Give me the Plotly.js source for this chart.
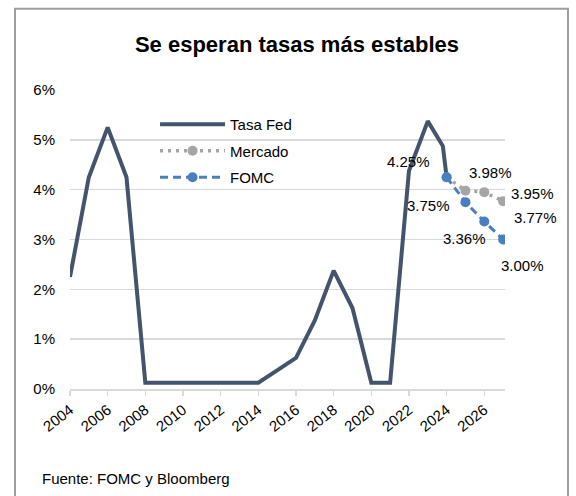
<!DOCTYPE html>
<html>
<head>
<meta charset="utf-8">
<script src="https://cdn.plot.ly/plotly-3.0.1.min.js"></script>
<style>
  html, body { margin: 0; padding: 0; background: #ffffff; }
  #chart { width: 576px; height: 496px; }
</style>
</head>
<body>
<div id="chart"></div>
<script>
// ---- Data ----
const fedYears = [2004, 2005, 2006, 2007, 2008, 2009, 2010, 2011, 2012, 2013, 2014, 2015, 2016, 2017, 2018, 2019, 2020, 2021, 2022, 2023, 2023.8, 2024];
const fedValues = [2.25, 4.25, 5.25, 4.25, 0.125, 0.125, 0.125, 0.125, 0.125, 0.125, 0.125, 0.375, 0.625, 1.375, 2.375, 1.625, 0.125, 0.125, 4.375, 5.375, 4.875, 4.25];

const mercadoYears = [2024, 2025, 2026, 2027];
const mercadoValues = [4.25, 3.98, 3.95, 3.77];

const fomcYears = [2024, 2025, 2026, 2027];
const fomcValues = [4.25, 3.75, 3.36, 3.00];

const yTickVals = [0, 1, 2, 3, 4, 5, 6];
const yTickText = ['0%', '1%', '2%', '3%', '4%', '5%', '6%'];
const xTickVals = [2004, 2006, 2008, 2010, 2012, 2014, 2016, 2018, 2020, 2022, 2024, 2026];
const xTickText = ['2004', '2006', '2008', '2010', '2012', '2014', '2016', '2018', '2020', '2022', '2024', '2026'];

const titleText = 'Se esperan tasas más estables';
const sourceText = 'Fuente: FOMC y Bloomberg';

// label offsets (style only)
const fomcLabelShift = [[-38, 16], [-37, -3], [-20, -17], [19, -26]];
const mercadoLabelShift = [null, [25, 18], [48, -1], [32, -16]];

const FONT = 'Liberation Sans, Arial, sans-serif';
const fedColor = '#44546A';
const fomcColor = '#4A7EBF';
const mercColor = '#A5A5A5';

const traces = [
  {
    x: fedYears, y: fedValues, type: 'scatter', mode: 'lines', name: 'Tasa Fed',
    line: { color: fedColor, width: 4 }, legendgroup: 'a', hoverinfo: 'skip'
  },
  {
    x: mercadoYears, y: mercadoValues, type: 'scatter', mode: 'lines+markers', name: 'Mercado',
    line: { color: mercColor, width: 3.5, dash: '3px,5px' },
    marker: { color: mercColor, size: 10 }, legendgroup: 'b', hoverinfo: 'skip'
  },
  {
    x: fomcYears, y: fomcValues, type: 'scatter', mode: 'lines+markers', name: 'FOMC',
    line: { color: fomcColor, width: 3, dash: '8px,5px' },
    marker: { color: fomcColor, size: 10 }, legendgroup: 'c', hoverinfo: 'skip'
  }
];

const annotations = [];
fomcYears.forEach((yr, i) => {
  const s = fomcLabelShift[i];
  if (!s) return;
  annotations.push({
    x: yr, y: fomcValues[i], xref: 'x', yref: 'y', showarrow: false,
    text: fomcValues[i].toFixed(2) + '%', xshift: s[0], yshift: s[1],
    font: { family: FONT, size: 15, color: '#000000' }
  });
});
mercadoYears.forEach((yr, i) => {
  const s = mercadoLabelShift[i];
  if (!s) return;
  annotations.push({
    x: yr, y: mercadoValues[i], xref: 'x', yref: 'y', showarrow: false,
    text: mercadoValues[i].toFixed(2) + '%', xshift: s[0], yshift: s[1],
    font: { family: FONT, size: 15, color: '#000000' }
  });
});
annotations.push({
  x: -0.069, y: -0.298, xref: 'paper', yref: 'paper', xanchor: 'left', yanchor: 'middle',
  showarrow: false, text: sourceText,
  font: { family: FONT, size: 15, color: '#000000' }
});

const layout = {
  width: 576, height: 496,
  margin: { l: 70, r: 71, t: 89.5, b: 106.5 },
  paper_bgcolor: '#ffffff', plot_bgcolor: '#ffffff',
  font: { family: FONT, size: 15, color: '#000000' },
  title: {
    text: '<b>' + titleText + '</b>',
    font: { family: FONT, size: 22, color: '#000000' },
    xref: 'container', yref: 'container', x: 0.5156, y: 0.911,
    xanchor: 'center', yanchor: 'middle'
  },
  xaxis: {
    type: 'linear', range: [2004, 2027.1],
    tickvals: xTickVals, ticktext: xTickText, tickangle: -38,
    showgrid: false, zeroline: false,
    showline: true, linecolor: '#D9D9D9', linewidth: 1.5,
    ticks: 'outside', ticklen: 5, tickcolor: '#D9D9D9', tickwidth: 1.5,
    tickfont: { family: FONT, size: 15, color: '#000000' }
  },
  yaxis: {
    range: [0, 6], tickvals: yTickVals, ticktext: yTickText,
    showgrid: true, gridcolor: '#D9D9D9', gridwidth: 1.5,
    zeroline: false, showline: false, ticks: '',
    ticklabelstandoff: 14,
    tickfont: { family: FONT, size: 15, color: '#000000' }
  },
  showlegend: true,
  legend: {
    x: 0.1955, y: 0.94, xanchor: 'left', yanchor: 'top',
    bgcolor: 'rgba(0,0,0,0)', borderwidth: 0,
    itemwidth: 65, traceorder: 'grouped', tracegroupgap: 4,
    font: { family: FONT, size: 15, color: '#000000' }
  },
  annotations: annotations,
  shapes: [{
    type: 'rect', xref: 'paper', yref: 'paper', layer: 'below',
    x0: -0.1264, x1: 1.1448, y0: -0.6, y1: 1.2717,
    line: { color: '#9E9E9E', width: 2 }, fillcolor: 'rgba(0,0,0,0)'
  }]
};

Plotly.newPlot('chart', traces, layout, { staticPlot: true, displayModeBar: false });
</script>
</body>
</html>
